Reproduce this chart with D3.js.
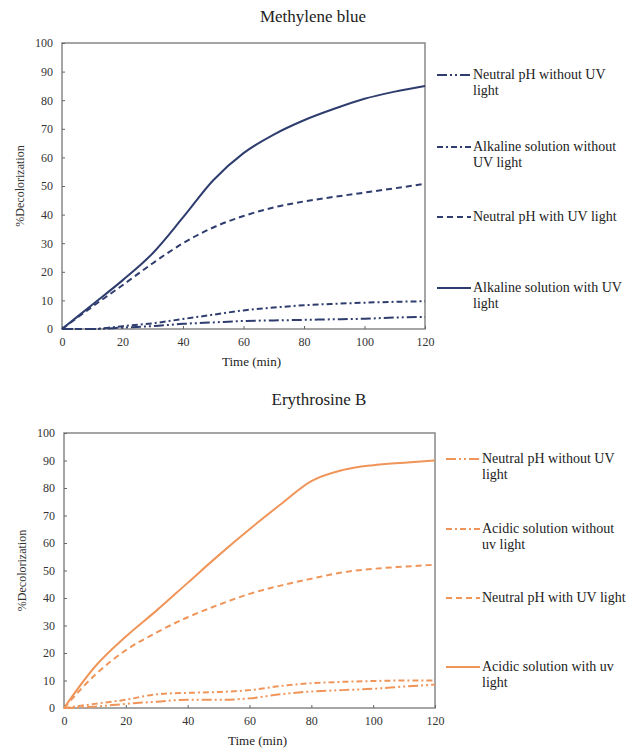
<!DOCTYPE html>
<html>
<head>
<meta charset="utf-8">
<script src="https://cdn.jsdelivr.net/npm/d3@7"></script>
<style>
  body { margin: 0; background: #fff; }
  svg text { font-family: "Liberation Serif", "Times New Roman", Times, "DejaVu Serif", serif !important; }
</style>
</head>
<body>
<div id="chart"></div>
<script>
// time points (min)
const times = [0, 10, 20, 30, 40, 50, 60, 70, 80, 90, 100, 110, 120];
const yTicks = [0, 10, 20, 30, 40, 50, 60, 70, 80, 90, 100];
const xTicks = [0, 20, 40, 60, 80, 100, 120];

// Methylene blue
const mbNeutralNoUV = [0, 0, 0.5, 1, 1.8, 2.3, 2.8, 3, 3.2, 3.4, 3.6, 4, 4.2];
const mbAlkalineNoUV = [0, 0, 1, 2, 3.5, 5, 6.5, 7.5, 8.3, 8.8, 9.2, 9.5, 9.7];
const mbNeutralUV = [0, 7.8, 15.3, 23, 30, 35.5, 39.5, 42.5, 44.6, 46.2, 47.7, 49.2, 50.8];
const mbAlkalineUV = [0, 8.5, 17, 26.5, 39, 52, 61.5, 68, 73, 77, 80.5, 83, 85];
const mbLabels = [
  ['Neutral pH without UV', 'light'],
  ['Alkaline solution without', 'UV light'],
  ['Neutral pH with UV light'],
  ['Alkaline solution with UV', 'light']
];

// Erythrosine B
const ebNeutralNoUV = [0, 0.5, 1.5, 2.3, 3, 3, 3.5, 5, 6, 6.5, 7, 7.8, 8.5];
const ebAcidicNoUV = [0, 1.5, 3, 5, 5.5, 5.8, 6.5, 8, 9, 9.5, 9.8, 10, 10];
const ebNeutralUV = [0, 12, 21, 27.5, 33, 37.5, 41.5, 44.5, 47, 49.3, 50.6, 51.4, 52.1];
const ebAcidicUV = [0, 15, 26, 35.5, 45.5, 55.5, 65, 74, 82.5, 86.5, 88.3, 89.2, 90];
const ebLabels = [
  ['Neutral pH without UV', 'light'],
  ['Acidic solution without', 'uv light'],
  ['Neutral pH with UV light'],
  ['Acidic solution with uv', 'light']
];

const dashes = ['10,3,2,3,2,3', '6,3,2,3', '6,4', null];

const svg = d3.select('#chart').append('svg')
  .attr('width', 630)
  .attr('height', 753);

function drawPanel(opt) {
  const x = d3.scaleLinear().domain([0, 120]).range([opt.left, opt.right]);
  const y = d3.scaleLinear().domain([0, 100]).range([opt.bottom, opt.top]);
  const g = svg.append('g');

  g.append('text')
    .attr('x', opt.titleX).attr('y', opt.titleY)
    .attr('text-anchor', 'middle')
    .attr('font-size', 17)
    .attr('fill', '#222')
    .text(opt.title);

  // frame
  g.append('rect')
    .attr('x', opt.left).attr('y', opt.top)
    .attr('width', opt.right - opt.left).attr('height', opt.bottom - opt.top)
    .attr('fill', 'none').attr('stroke', '#888').attr('stroke-width', 1.5);

  const xAxis = g.append('g')
    .attr('transform', 'translate(0,' + opt.bottom + ')')
    .call(d3.axisBottom(x).tickValues(xTicks).tickSizeInner(-3).tickSizeOuter(0).tickPadding(8));
  const yAxis = g.append('g')
    .attr('transform', 'translate(' + opt.left + ',0)')
    .call(d3.axisLeft(y).tickValues(yTicks).tickSizeInner(-3).tickSizeOuter(0).tickPadding(9));
  [xAxis, yAxis].forEach(a => {
    a.attr('font-family', null);
    a.select('.domain').remove();
    a.selectAll('line').attr('stroke', '#666');
    a.selectAll('text').attr('font-size', 12).attr('fill', '#333');
  });

  g.append('text')
    .attr('x', (opt.left + opt.right) / 2 + 8).attr('y', opt.bottom + 37)
    .attr('text-anchor', 'middle').attr('font-size', 13).attr('fill', '#222')
    .text('Time (min)');
  g.append('text')
    .attr('transform', 'translate(' + (opt.left - 38) + ',' + ((opt.top + opt.bottom) / 2) + ')rotate(-90)')
    .attr('text-anchor', 'middle').attr('font-size', 12).attr('fill', '#333')
    .text('%Decolorization');

  const line = d3.line()
    .x((d, i) => x(times[i]))
    .y(d => y(d))
    .curve(d3.curveMonotoneX);

  opt.series.forEach((s, i) => {
    g.append('path')
      .datum(s)
      .attr('d', line)
      .attr('fill', 'none')
      .attr('stroke', opt.color)
      .attr('stroke-width', 2)
      .attr('stroke-dasharray', dashes[i]);
  });

  // legend
  opt.labels.forEach((lab, i) => {
    const ly = opt.legendY[i];
    g.append('line')
      .attr('x1', opt.legendX).attr('x2', opt.legendX + 34)
      .attr('y1', ly).attr('y2', ly)
      .attr('stroke', opt.color).attr('stroke-width', 2)
      .attr('stroke-dasharray', dashes[i]);
    const t = g.append('text')
      .attr('x', opt.legendX + 36).attr('y', ly + 4)
      .attr('font-size', 14).attr('fill', '#222');
    lab.forEach((s, j) => {
      t.append('tspan')
        .attr('x', opt.legendX + 36)
        .attr('dy', j === 0 ? 0 : 16)
        .text(s);
    });
  });
}

drawPanel({
  title: 'Methylene blue', titleX: 313, titleY: 22,
  left: 62, right: 425, top: 43, bottom: 329,
  color: '#2e3d6e',
  series: [mbNeutralNoUV, mbAlkalineNoUV, mbNeutralUV, mbAlkalineUV],
  labels: mbLabels,
  legendX: 437, legendY: [75, 147, 217, 288]
});

drawPanel({
  title: 'Erythrosine B', titleX: 319, titleY: 405,
  left: 64, right: 435, top: 433, bottom: 708,
  color: '#f0955a',
  series: [ebNeutralNoUV, ebAcidicNoUV, ebNeutralUV, ebAcidicUV],
  labels: ebLabels,
  legendX: 446, legendY: [459, 529, 598, 667]
});
</script>
</body>
</html>
